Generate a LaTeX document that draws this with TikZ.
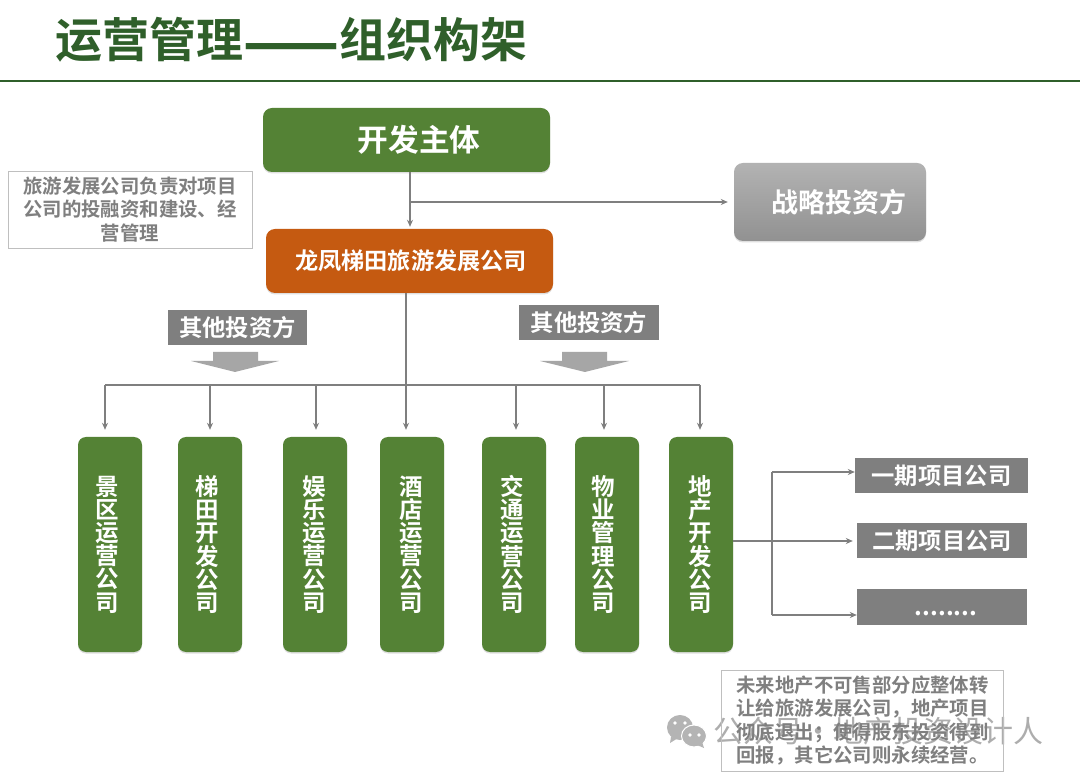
\documentclass[tikz,border=0pt]{standalone}
\usepackage{fontspec}
\usepackage{graphicx}
\setmainfont{Noto Sans CJK SC}[BoldFont={Noto Sans CJK SC Bold}]
\usetikzlibrary{shadows,arrows.meta}
\definecolor{boxgreen}{HTML}{548235}
\definecolor{boxorange}{HTML}{C55A11}
\definecolor{titlegreen}{HTML}{2F5F2A}
\definecolor{boxgray}{HTML}{7F7F7F}
\definecolor{wiregray}{HTML}{7F7F7F}
\definecolor{arrowgray}{HTML}{A6A6A6}
\definecolor{markgray}{HTML}{B4B4B4}
\tikzset{
  softshadow/.style={drop shadow={shadow xshift=0pt, shadow yshift=-1.5pt, opacity=0.25}},
  greenbox/.style={fill=boxgreen, softshadow, rounded corners=8pt, text=white, font=\bfseries\fontsize{23.5}{23.2}\selectfont, minimum width=64pt, minimum height=215pt, inner sep=0pt},
  mainbox/.style={softshadow, rounded corners=9pt, text=white, font=\bfseries, inner sep=0pt},
  graybox/.style={fill=boxgray, text=white, font=\bfseries\fontsize{23.3}{23}\selectfont, inner sep=0pt},
  notebox/.style={draw=black!25, line width=0.8pt, text=boxgray, font=\bfseries\fontsize{19.4}{23.4}\selectfont, inner sep=0pt},
  wire/.style={wiregray, line width=1.1pt},
  arr/.style={wire, -{Stealth[length=7pt,width=6pt]}},
  bigarrow/.style={fill=arrowgray, draw=none}
}
% text of a tall box, with its small offset from the centre
\newcommand{\vlab}[2]{\hspace*{#1}\raisebox{-2pt}{\begin{minipage}{30pt}\centering\lineskiplimit=-10pt\baselineskip=23.2pt #2\end{minipage}}}
\begin{document}
\begin{tikzpicture}[x=1pt, y=-1pt]
\useasboundingbox (0,0) rectangle (1080,775);
\fill[white] (0,0) rectangle (1080,775);
% title
\node[text=titlegreen, font=\bfseries\fontsize{47}{47}\selectfont, anchor=west, inner sep=0pt] (title) at (55,41) {运营管理\raisebox{-8pt}{\scalebox{1.2}[1.4]{——}}组织构架};
\draw[titlegreen, line width=2.5pt] (0,81) -- (1080,81);
% watermark
\node[text=black!32, font=\fontsize{30}{30}\selectfont, anchor=west, inner sep=0pt] (mark) at (713,731) {公众号·地产投资设计人};
\fill[markgray] (680,727.5) ellipse (13pt and 12.5pt);
\fill[markgray] (671,737) -- (670,743) -- (678,738) -- cycle;
\fill[markgray, draw=white, line width=1pt] (694,736) ellipse (12.5pt and 11pt);
\fill[markgray] (702,742) -- (704,748) -- (697,745) -- cycle;
\foreach \ex/\ey in {675/723,685/723,690/735,699/735}
  \fill[white] (\ex,\ey) circle (1.8pt);
% top boxes
\node[mainbox, fill=boxgreen, minimum width=287pt, minimum height=64pt, font=\bfseries\fontsize{30.7}{30.7}\selectfont] (dev) at (406.5,140) {\hspace{25pt}开发主体};
\node[mainbox, fill=boxorange, minimum width=287pt, minimum height=64pt, font=\bfseries\fontsize{23.2}{23.2}\selectfont] (long) at (409.5,261) {\hspace{3pt}龙凤梯田旅游发展公司};
\node[mainbox, top color=black!30, bottom color=black!43, minimum width=192pt, minimum height=78pt, font=\bfseries\fontsize{27}{27}\selectfont] (stra) at (830,202) {\hspace{18pt}战略投资方};
\node[notebox, minimum width=244pt, minimum height=77pt, align=center] (note1) at (130,209.5) {旅游发展公司负责对项目\\公司的投融资和建设、经\\营管理};
% investors
\node[graybox, minimum width=139pt, minimum height=35pt] (inva) at (237.5,327.5) {其他投资方};
\node[graybox, minimum width=140pt, minimum height=35pt] (invb) at (589,322.5) {其他投资方};
\fill[bigarrow] (213,352) -- (258,352) -- (258,361) -- (279,361) -- (235,372) -- (191,361) -- (213,361) -- cycle;
\fill[bigarrow] (562,352) -- (607,352) -- (607,361) -- (629,361) -- (585,372) -- (540,361) -- (562,361) -- cycle;
% companies
\node[greenbox] (ca) at (110,544.5) {\vlab{-6pt}{景\\区\\运\\营\\公\\司}};
\node[greenbox] (cb) at (210,544.5) {\vlab{-6pt}{梯\\田\\开\\发\\公\\司}};
\node[greenbox] (cc) at (315,544.5) {\vlab{-2pt}{娱\\乐\\运\\营\\公\\司}};
\node[greenbox] (cd) at (412,544.5) {\vlab{-2pt}{酒\\店\\运\\营\\公\\司}};
\node[greenbox] (ce) at (514,544.5) {\vlab{-4pt}{交\\通\\运\\营\\公\\司}};
\node[greenbox] (cf) at (607,544.5) {\vlab{-8pt}{物\\业\\管\\理\\公\\司}};
\node[greenbox] (cg) at (701,544.5) {\vlab{-2pt}{地\\产\\开\\发\\公\\司}};
% project companies
\node[graybox, minimum width=173pt, minimum height=35pt] (pa) at (941.5,475.5) {一期项目公司};
\node[graybox, minimum width=170pt, minimum height=35pt] (pb) at (942,540.5) {二期项目公司};
\node[graybox, minimum width=170pt, minimum height=36pt] (pc) at (942,607) {};
\node[text=white, font=\bfseries\fontsize{24}{24}\selectfont, inner sep=0pt] (pdots) at (946,614) {........};
\node[notebox, minimum width=282pt, minimum height=101pt, align=left] (note2) at (862,720.5) {\hspace*{1pt}未来地产不可售部分应整体转\\\hspace*{1pt}让给旅游发展公司，地产项目\\\hspace*{1pt}彻底退出；使得股东投资得到\\\hspace*{1pt}回报，其它公司则永续经营。};
% connectors
\coordinate (tee) at (410,202);
\coordinate (bus) at (406,385);
\coordinate (busl) at (105,385);
\coordinate (busr) at (700,385);
\coordinate (fork) at (772,541);
\coordinate (forka) at (772,472);
\coordinate (forkc) at (772,615);
\draw[arr, shorten >=2pt] (dev.south -| tee) -- (long.north -| tee);
\draw[arr, shorten >=6pt] (tee) -- (stra.west |- tee);
\draw[wire] (long.south -| bus) -- (bus);
\draw[wire] (busl) -- (busr);
\foreach \comp/\xpos in {ca/105,cb/210,cc/316,cd/406,ce/516,cf/604,cg/700}
  \draw[arr, shorten >=7pt] (\xpos,385) -- (\comp.north -| \xpos,385);
\draw[wire] (cg.east |- fork) -- (fork);
\draw[wire] (forka) -- (forkc);
\draw[arr] (forka) -- (pa.west |- forka);
\draw[arr, shorten >=4pt] (fork) -- (pb.west |- fork);
\draw[arr] (forkc) -- (pc.west |- forkc);
\end{tikzpicture}
\end{document}
